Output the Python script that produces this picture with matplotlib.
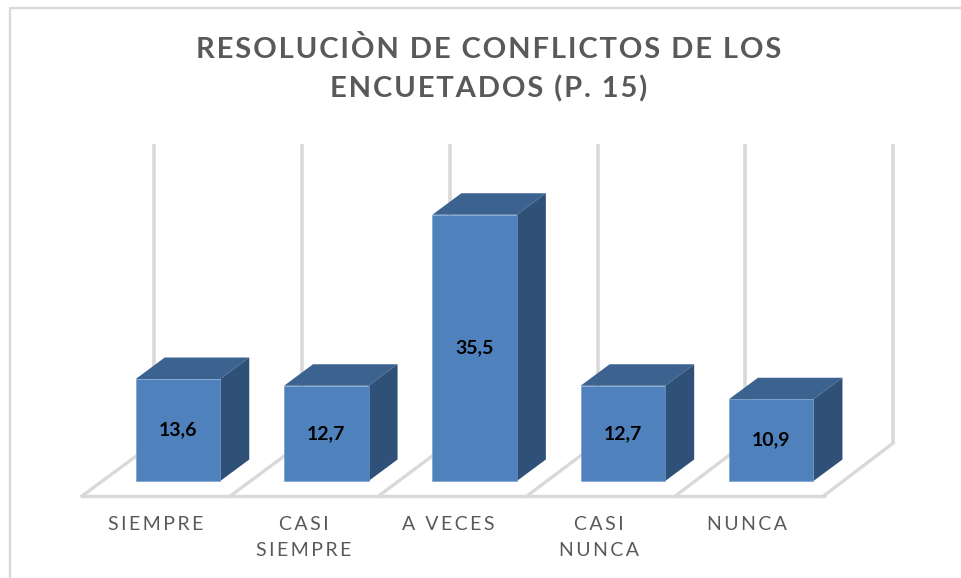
import matplotlib
matplotlib.use("Agg")
import matplotlib.pyplot as plt
from matplotlib.patches import Polygon

categorias = ["SIEMPRE", "CASI\nSIEMPRE", "A VECES", "CASI\nNUNCA", "NUNCA"]
valores = [13.6, 12.7, 35.5, 12.7, 10.9]
etiquetas = ["13,6", "12,7", "35,5", "12,7", "10,9"]
titulo = "RESOLUCIÒN DE CONFLICTOS DE LOS\nENCUETADOS (P. 15)"

W, H = 961, 578
# escala: 148.3 px por categoria, 7.5 px por unidad, base en (178, 481)
ppx, ppy = 148.3, 7.5
x0, y0 = 178, 481

def espaciar(s, sep):
    # matplotlib no tiene letter-spacing
    return "\n".join(sep.join(linea) for linea in s.split("\n"))

plt.rcParams['font.family'] = ['Lato', 'DejaVu Sans']
fig = plt.figure(figsize=(W/100, H/100), dpi=100)
ax = fig.add_axes([0, 0, 1, 1])
ax.set_xlim((0-x0)/ppx, (W-x0)/ppx)
ax.set_ylim((y0-H)/ppy, y0/ppy)
ax.axis("off")

gris = "#d9d9d9"
# marco: solo arriba e izquierda
ax.plot([10/W, 10/W, 1], [0, 1-7.5/H, 1-7.5/H], transform=ax.transAxes, color=gris, lw=1.7,
        solid_joinstyle="miter", zorder=0)

# paredes y piso
piso_y, fondo_y, tope_y = -2.0, 5.07, 45.0
for i in range(6):
    xb = -0.162 + 0.997*i
    xf = -0.647 + 1.0*i
    ax.plot([xb, xb], [fondo_y, tope_y], color=gris, lw=2.6, solid_capstyle="butt", zorder=1)
    ax.plot([xf, xb], [piso_y, fondo_y], color=gris, lw=2.4, zorder=1)
ax.plot([-0.647, 4.356], [piso_y, piso_y], color=gris, lw=2.4, zorder=1)

# barras con profundidad
ancho = 0.57
dx, dy = 29/ppx, 21.5/ppy
for i, v in enumerate(valores):
    l, r = i-ancho/2, i+ancho/2
    ax.add_patch(Polygon([(l, v), (r, v), (r+dx, v+dy), (l+dx, v+dy)], fc="#3c6390", ec="none", zorder=3))
    ax.add_patch(Polygon([(r, 0), (r+dx, dy), (r+dx, v+dy), (r, v)], fc="#2f5178", ec="none", zorder=3))
ax.bar(range(5), valores, width=ancho, color="#4f81bd", edgecolor="#6f98ca", linewidth=0.4, zorder=4)

for i, v in enumerate(valores):
    ax.text(i, v/2, etiquetas[i], ha="center", va="center", fontsize=14, fontweight="bold",
            color="black", zorder=5)

xlab = [-0.152, 0.848, 1.82, 2.84, 3.84]
for i, c in enumerate(categorias):
    ax.text(xlab[i], -4.7, espaciar(c, "\u2009"), ha="center", va="top", fontsize=14, color="#595959",
            linespacing=1.65, zorder=5)

ax.text(0.508, 1-36/H, espaciar(titulo, "\u200a"), transform=ax.transAxes, ha="center", va="top", fontsize=21,
        fontweight="bold", color="#595959", linespacing=1.55)

fig.savefig("out.png", dpi=100)
